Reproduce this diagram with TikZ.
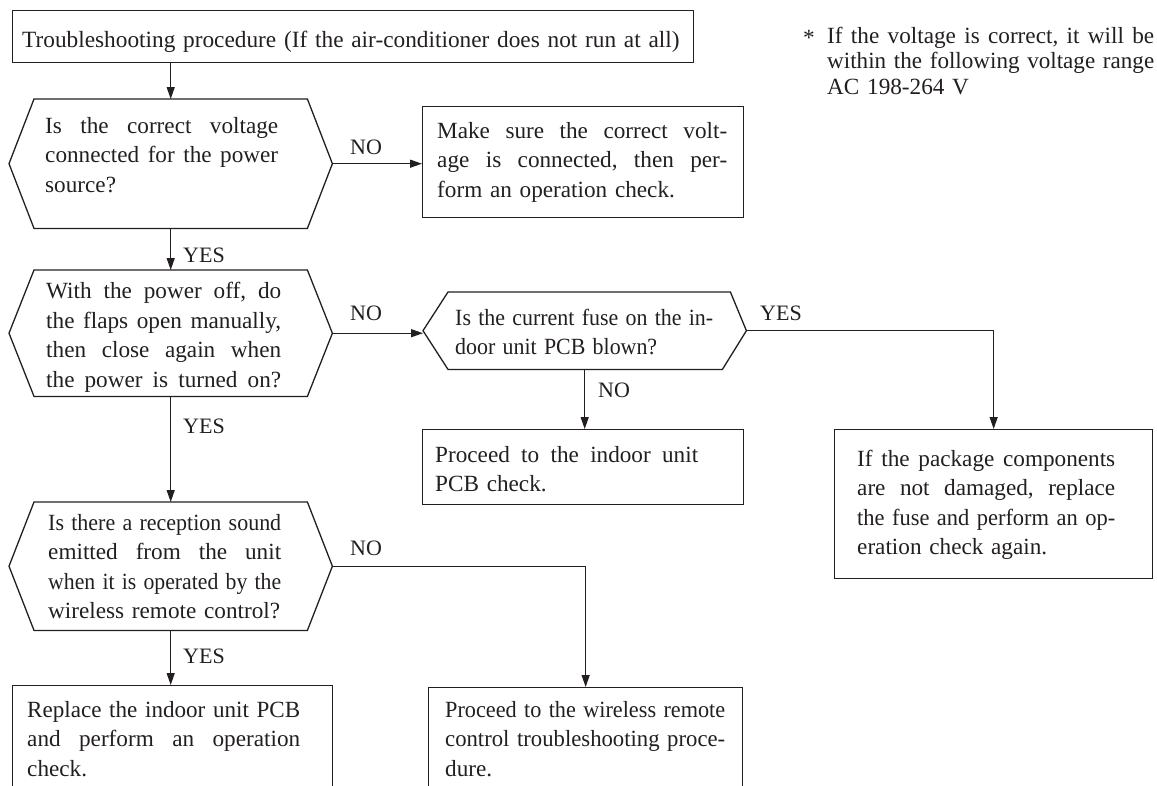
\documentclass[tikz,border=0pt]{standalone}
\usepackage{fontspec}
\usepackage{graphicx}
\setmainfont{Liberation Serif}
\usetikzlibrary{arrows.meta,calc}
\definecolor{ink}{HTML}{231F20}
% justified line: stretch word spaces to the width, or condense if too long
\newcommand{\jl}[2]{\leavevmode\sbox0{#2}\ifdim\wd0>#1pt\relax\resizebox{#1pt}{\height}{#2}\else\hbox to #1pt{\spaceskip=.25em plus 1fil\relax\frenchspacing #2}\fi}
\setlength{\parindent}{0pt}
\begin{document}
\begin{tikzpicture}[x=1pt,y=-1pt,
  every node/.style={font=\fontsize{23.2}{29.5}\selectfont, text=ink},
  line/.style={draw=ink, line width=1.3pt},
  arr/.style={line, -{Triangle[length=12pt,width=8pt]}},
  boxshape/.style={draw=ink, line width=1.3pt, inner sep=0pt, anchor=north west},
  hexshape/.style={draw=none, inner sep=0pt, anchor=north west},
  txt/.style={anchor=north west, inner sep=0pt, align=left, text width=400pt},
  lbl/.style={font=\fontsize{22}{26}\selectfont, anchor=west, inner sep=0pt},
]
\useasboundingbox[fill=white] (0,0) rectangle (1157,785);

% ---------- shapes ----------
\node[boxshape, minimum width=681pt, minimum height=52pt] (T) at (12,10) {};
\node[hexshape, minimum width=323pt, minimum height=129pt] (h1) at (9,99) {};
\node[boxshape, minimum width=321pt, minimum height=111pt] (M) at (422,106) {};
\node[hexshape, minimum width=323pt, minimum height=126pt] (h2) at (9,270) {};
\node[hexshape, minimum width=323pt, minimum height=77pt] (h3) at (423,292) {};
\node[boxshape, minimum width=321pt, minimum height=75pt] (B3) at (422,429) {};
\node[boxshape, minimum width=318pt, minimum height=149pt] (B4) at (834,429) {};
\node[hexshape, minimum width=323pt, minimum height=128pt] (h4) at (9,502) {};
\node[boxshape, minimum width=320pt, minimum height=114pt] (B5) at (12,685) {};
\node[boxshape, minimum width=314pt, minimum height=112pt] (B6) at (428,687) {};

\foreach \h in {h1,h2,h4}{
  \draw[line] (\h.west) -- ([xshift=25pt]\h.north west) -- ([xshift=-25pt]\h.north east) -- (\h.east)
    -- ([xshift=-25pt]\h.south east) -- ([xshift=25pt]\h.south west) -- cycle;
}
\draw[line] (h3.west) -- ([xshift=25pt]h3.north west) -- ([xshift=-16pt]h3.north east) -- (h3.east)
  -- ([xshift=-24pt]h3.south east) -- ([xshift=25pt]h3.south west) -- cycle;

% ---------- texts (y = first baseline - 0.7 baselineskip) ----------
\node[txt, text width=700pt, font=\fontsize{23.3}{29.5}\selectfont] (Tt) at (22,26.35)
  {\strut Troubleshooting procedure (If the air-conditioner does not run at all)};
\node[txt] (h1t) at (45,112.35)
  {\strut\jl{233}{Is the correct voltage}\\ \jl{233}{connected for the power}\\ source?};
\node[txt] (Mt) at (437,117.35)
  {\strut\jl{290}{Make sure the correct volt-}\\ \jl{290}{age is connected, then per-}\\ form an operation check.};
\node[txt] (h2t) at (46,277.85)
  {\strut\jl{235}{With the power off, do}\\ \jl{235}{the flaps open manually,}\\ \jl{235}{then close again when}\\ \jl{235}{the power is turned on?}};
\node[txt] (h3t) at (455,304.35)
  {\strut\jl{258}{Is the current fuse on the in-}\\ \jl{202}{door unit PCB blown?}};
\node[txt] (B3t) at (435,441.35)
  {\strut\jl{263}{Proceed to the indoor unit}\\ PCB check.};
\node[txt] (B4t) at (857,445.35)
  {\strut\jl{258}{If the package components}\\ \jl{258}{are not damaged, replace}\\ \jl{258}{the fuse and perform an op-}\\ eration check again.};
\node[txt] (h4t) at (48,509.35)
  {\strut\jl{233}{Is there a reception sound}\\ \jl{233}{emitted from the unit}\\ \jl{233}{when it is operated by the}\\ wireless remote control?};
\node[txt] (B5t) at (27,696.35)
  {\strut\jl{273}{Replace the indoor unit PCB}\\ \jl{273}{and perform an operation}\\ check.};
\node[txt] (B6t) at (445,696.35)
  {\strut\jl{280}{Proceed to the wireless remote}\\ \jl{280}{control troubleshooting proce-}\\ dure.};

% footnote
\node[anchor=base west, inner sep=0pt] (star) at (803,45) {*};
\node[txt, text width=328pt, font=\fontsize{23.2}{25.5}\selectfont] (note) at (827,25.15)
  {\strut\jl{327}{If the voltage is correct, it will be}\\ \jl{327}{within the following voltage range}\\ AC 198-264 V};

% ---------- connectors ----------
\draw[arr] (T.south -| h1.north) -- (h1.north);
\draw[arr] (h1.east) -- (h1.east -| M.west);
\draw[arr] (h1.south) -- (h2.north);
\draw[arr] (h2.east) -- (h2.east -| h3.west);
\draw[arr] (h3.east) -| (B4.north);
\draw[arr] (h3.south) -- (h3.south |- B3.north);
\draw[arr] (h2.south) -- (h4.north);
\draw[arr] (h4.east) -| (B6.north);
\draw[arr] (h4.south) -- (h4.south |- B5.north);

% ---------- labels ----------
\node[lbl] (no1) at (350,147) {NO};
\node[lbl] (yes1) at (183,255) {YES};
\node[lbl] (no2) at (350,313) {NO};
\node[lbl] (yes2) at (760,313) {YES};
\node[lbl] (no3) at (598,390) {NO};
\node[lbl] (yes3) at (183,426) {YES};
\node[lbl] (no4) at (350,548) {NO};
\node[lbl] (yes4) at (183,656) {YES};
\end{tikzpicture}
\end{document}
